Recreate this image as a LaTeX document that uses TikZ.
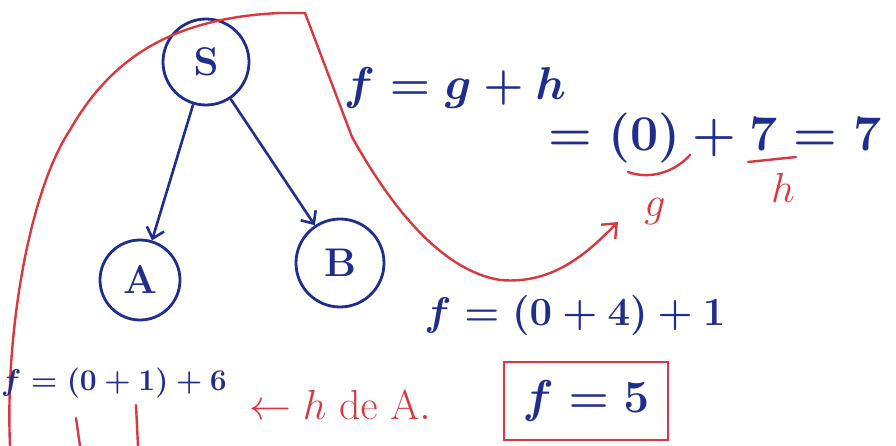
\documentclass[tikz,border=0pt]{standalone}
\usepackage{fix-cm}
\usetikzlibrary{arrows.meta}
\definecolor{ink}{HTML}{1F2D8C}
\definecolor{rink}{HTML}{D9383F}
\begin{document}
\begin{tikzpicture}[x=1pt,y=-1pt,
  state/.style={circle,draw=ink,line width=2.8pt,text=ink,minimum size=#1,inner sep=0pt,font=\fontsize{40}{46}\selectfont\boldmath},
  edge/.style={ink,line width=2.6pt,-{Straight Barb[length=10pt,width=18pt]}},
  blu/.style={text=ink,inner sep=0pt,font=\fontsize{46}{52}\selectfont\boldmath},
  rd/.style={text=rink,inner sep=0pt,font=\fontsize{42}{48}\selectfont},
  rline/.style={rink,line width=2.4pt,line cap=round}]
\useasboundingbox (0,0) rectangle (896,446);
\fill[white] (0,0) rectangle (896,446);
% tree
\node[state=86pt] (s) at (206,62) {$\mathbf{S}$};
\node[state=80pt] (a) at (140,280) {$\mathrm{A}$};
\node[state=88pt] (b) at (340,263) {$\mathrm{B}$};
\draw[edge] (s) -- (a);
\draw[edge] (s) -- (b);
% red bounding curve
\coordinate (rs) at (10,446);
\coordinate (re) at (618,222);
\draw[rline,-{Straight Barb[length=12pt,width=20pt]}] (rs) .. controls (5,330) and (30,190) .. (70,130)
  .. controls (110,60) and (170,18) .. (280,13) -- (305,13)
  -- (352,137) .. controls (390,205) and (440,270) .. (500,280)
  .. controls (555,285) and (590,250) .. (re);
% equations
\node[blu] (e1) at (455,88) {$f=g+h$};
\node[blu,font=\fontsize{50}{56}\selectfont\boldmath] (e2) at (715,138) {$=(0)+7=7$};
\node[rd] (g) at (655,212) {$g$};
\node[rd] (h) at (783,188) {$h$};
\draw[rline] (748,162) -- (796,157);
\draw[rline] (628,172) .. controls (650,180) and (675,172) .. (690,155);
\node[blu,font=\fontsize{40}{46}\selectfont\boldmath] (e3) at (575,315) {$f=(0+4)+1$};
\node[draw=rink,line width=2.4pt,minimum width=164pt,minimum height=78pt,inner sep=0pt] (box) at (586,401) {};
\node[blu] (e4) at (box.center) {$f=\mathbf{5}$};
\node[blu,font=\fontsize{30}{36}\selectfont\boldmath] (e5) at (114,383) {$f=(0+1)+6$};
\node[rd] (lab) at (340,405) {$\leftarrow h\ \mathrm{de\ A.}$};
\draw[rline] (76,418) -- (80,446);
\draw[rline] (136,405) -- (138,446);
\end{tikzpicture}
\end{document}
